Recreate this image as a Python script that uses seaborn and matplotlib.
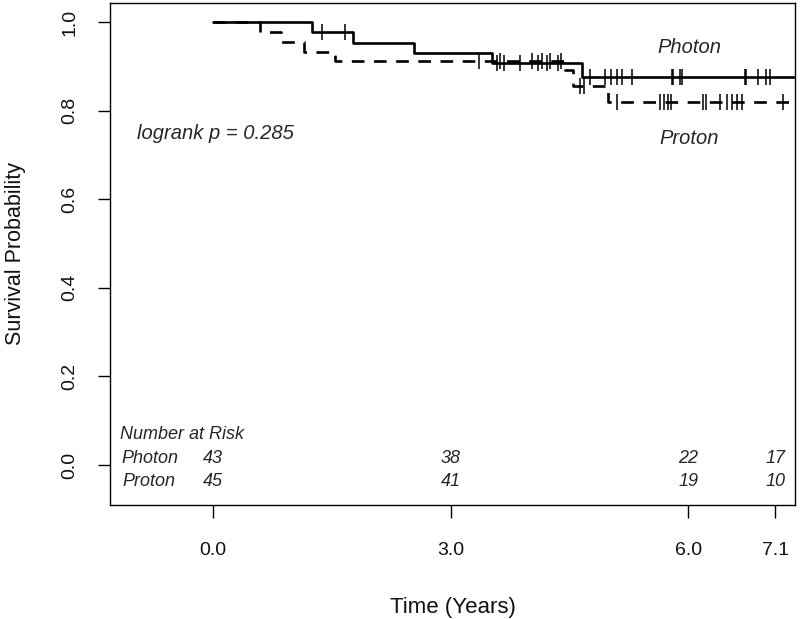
import matplotlib
matplotlib.use("Agg")
import matplotlib.pyplot as plt
import seaborn as sns
import pandas as pd

# ---- data ----
photon_times = [0.0, 1.25, 1.77, 2.54, 3.52, 4.66, 7.40]
photon_surv = [1.000, 0.977, 0.953, 0.930, 0.907, 0.877, 0.877]
photon_cens_t = [1.38, 1.67, 3.59, 3.67, 3.88, 4.10, 4.22, 4.36, 4.76, 4.95, 5.03,
                 5.10, 5.16, 5.29, 5.80, 5.81, 5.90, 5.92, 6.72, 6.73, 6.88, 6.99, 7.04]

proton_times = [0.0, 0.60, 0.86, 1.15, 1.54, 4.45, 4.55, 4.99, 7.40]
proton_surv = [1.000, 0.978, 0.956, 0.933, 0.911, 0.892, 0.856, 0.820, 0.820]
proton_cens_t = [3.36, 3.62, 4.03, 4.15, 4.25, 4.39, 4.63, 4.68, 5.10, 5.64, 5.69,
                 5.74, 5.78, 6.19, 6.23, 6.40, 6.49, 6.55, 6.62, 6.68, 7.20]

risk_times = [0.0, 3.0, 6.0, 7.1]
risk_photon = [43, 38, 22, 17]
risk_proton = [45, 41, 19, 10]

x_ticks = [0.0, 3.0, 6.0, 7.1]
x_ticklabels = ["0.0", "3.0", "6.0", "7.1"]
y_ticks = [0.0, 0.2, 0.4, 0.6, 0.8, 1.0]


def surv_at(t, times, surv):
    s = surv[0]
    for ti, si in zip(times, surv):
        if ti <= t:
            s = si
    return s


sns.set_style("white")
plt.rcParams['font.family'] = ['Liberation Sans', 'DejaVu Sans']

fig = plt.figure(figsize=(8, 6.19), dpi=100)
ax = fig.add_axes([0.1375, 0.1842, 0.99375 - 0.1375, 0.9952 - 0.1842])

ph = pd.DataFrame({"t": photon_times, "s": photon_surv})
pr = pd.DataFrame({"t": proton_times, "s": proton_surv})

sns.lineplot(data=ph, x="t", y="s", ax=ax, drawstyle="steps-post", color="black",
             lw=1.9, estimator=None, sort=False)
sns.lineplot(data=pr, x="t", y="s", ax=ax, drawstyle="steps-post", color="black",
             lw=1.9, estimator=None, sort=False, linestyle=(0, (4.8, 3.6)))

phc = pd.DataFrame({"t": photon_cens_t,
                    "s": [surv_at(t, photon_times, photon_surv) for t in photon_cens_t]})
prc = pd.DataFrame({"t": proton_cens_t,
                    "s": [surv_at(t, proton_times, proton_surv) for t in proton_cens_t]})
for d in (phc, prc):
    ax.plot(d["t"], d["s"], linestyle="none", marker="|", markersize=12,
            markeredgewidth=1.1, color="black")

ax.set_xlim(-1.30, 7.35)
ax.set_ylim(-0.09, 1.043)
ax.set_xticks(x_ticks)
ax.set_xticklabels(x_ticklabels)
ax.set_yticks(y_ticks)
ax.set_yticklabels([f"{v:.1f}" for v in y_ticks], rotation=90, va="center")
ax.tick_params(axis="both", which="both", direction="out", length=9, width=1,
               color="black", labelsize=14, labelcolor="#111111")
ax.tick_params(axis="x", pad=18)
ax.tick_params(axis="y", pad=14)
ax.tick_params(bottom=True, left=True, top=False, right=False)
for sp in ax.spines.values():
    sp.set_visible(True)
    sp.set_color("black")
    sp.set_linewidth(1.0)

ax.set_xlabel("Time (Years)", fontsize=16, labelpad=27, color="#111111")
ax.set_ylabel("Survival Probability", fontsize=15.5, labelpad=25, color="#111111")

ax.text(6.02, 0.942, "Photon", fontsize=14.5, style="italic", ha="center", va="center")
ax.text(6.01, 0.736, "Proton", fontsize=14.5, style="italic", ha="center", va="center")
ax.text(0.03, 0.749, "logrank p = 0.285", fontsize=14.5, style="italic",
        ha="center", va="center")

fs_risk = 13
ax.text(-1.17, 0.070, "Number at Risk", fontsize=fs_risk, style="italic", ha="left", va="center")
ax.text(-1.16, 0.016, "Photon", fontsize=fs_risk, style="italic", ha="left", va="center")
ax.text(-1.14, -0.036, "Proton", fontsize=fs_risk, style="italic", ha="left", va="center")
for t, a, b in zip(risk_times, risk_photon, risk_proton):
    ax.text(t, 0.016, str(a), fontsize=fs_risk, style="italic", ha="center", va="center")
    ax.text(t, -0.036, str(b), fontsize=fs_risk, style="italic", ha="center", va="center")

fig.savefig("out.png", dpi=100)
